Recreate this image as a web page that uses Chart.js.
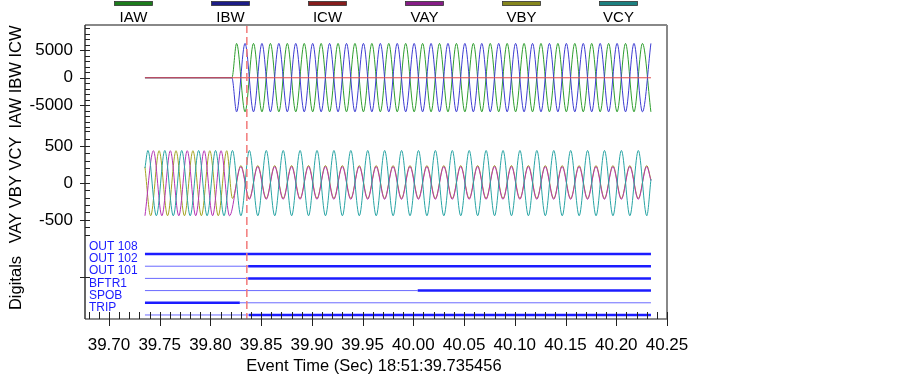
<!DOCTYPE html>
<html lang="en">
<head>
<meta charset="UTF-8">
<title>Fault record</title>
<script src="https://cdn.jsdelivr.net/npm/chart.js"></script>
<style>
  html, body { margin: 0; padding: 0; background: #fff; }
  #wrap { width: 903px; height: 378px; position: relative; }
</style>
</head>
<body>
<div id="wrap"><canvas id="rec"></canvas></div>
<script>
// ---- time base (seconds) ----
const HALF = 1 / 120;            // half cycle at 60 Hz
const tStart = 39.7355, tFault = 39.8212, tEnd = 40.2342;
const tMarker = 39.8359;          // red dashed cursor
const xTicks = { min: 39.6764, max: 40.25, step: 0.05 };
const yITicks = [-5000, 0, 5000];
const yVTicks = [-500, 0, 500];

// ---- currents: half-cycle peaks after the fault ----
const iawPeak0 = 39.8258;
const iawPeaks = [
  6250, -6200, 6250, -6200, 6250, -6200, 6250, -6200, 6250, -6200,
  6250, -6200, 6250, -6200, 6250, -6200, 6250, -6200, 6250, -6200,
  6250, -6200, 6250, -6200, 6250, -6200, 6250, -6200, 6250, -6200,
  6250, -6200, 6250, -6200, 6250, -6200, 6250, -6200, 6250, -6200,
  6250, -6200, 6250, -6200, 6250, -6200, 6250, -6200, 6250, -6200
];
const ibwPeaks = [
  -6200, 6250, -6200, 6250, -6200, 6250, -6200, 6250, -6200, 6250,
  -6200, 6250, -6200, 6250, -6200, 6250, -6200, 6250, -6200, 6250,
  -6200, 6250, -6200, 6250, -6200, 6250, -6200, 6250, -6200, 6250,
  -6200, 6250, -6200, 6250, -6200, 6250, -6200, 6250, -6200, 6250,
  -6200, 6250, -6200, 6250, -6200, 6250, -6200, 6250, -6200, 6250
];
const icwLevel = 0;

// ---- voltages: half-cycle peaks ----
const vayPre0 = 39.7355;
const vayPre = [-445, 435, -445, 435, -445, 435, -445, 435, -445, 435, -445];
const vayPost0 = 39.8300;
const vayPost = [
  220, -222, 220, -222, 220, -222, 220, -222, 220, -222,
  220, -222, 220, -222, 220, -222, 220, -222, 220, -222,
  220, -222, 220, -222, 220, -222, 220, -222, 220, -222,
  220, -222, 220, -222, 220, -222, 220, -222, 220, -222,
  220, -222, 220, -222, 220, -222, 220, -222, 220
];
const vayEnd = 30;

const vbyStart = 215;
const vbyPre0 = 39.7411;
const vbyPre = [-445, 435, -445, 435, -445, 435, -445, 435, -445, 435];
const vbyPost0 = 39.8217;
const vbyPost = [
  -210, 234, -210, 234, -210, 234, -210, 234, -210, 234,
  -210, 234, -210, 234, -210, 234, -210, 234, -210, 234,
  -210, 234, -210, 234, -210, 234, -210, 234, -210, 234,
  -210, 234, -210, 234, -210, 234, -210, 234, -210, 234,
  -210, 234, -210, 234, -210, 234, -210, 234, -210, 234
];
const vbyEnd = 40;

const vcyStart = 200;
const vcy0 = 39.7384;
const vcyPeaks = [
  438, -445, 438, -445, 438, -445, 438, -445, 438, -445,
  438, -445, 438, -445, 438, -445, 438, -445, 438, -445,
  438, -445, 438, -445, 438, -445, 438, -445, 438, -445,
  438, -445, 438, -445, 438, -445, 438, -445, 438, -445,
  438, -445, 438, -445, 438, -445, 438, -445, 438, -445,
  438, -445, 438, -445, 438, -445, 438, -445, 438, -445
];
const vcyEnd = 50;

// ---- digitals ----
const digNames = ['OUT 108', 'OUT 102', 'OUT 101', 'BFTR1', 'SPOB', 'TRIP'];
const digTimes = [
  [39.7355, 40.2342],
  [39.7355, 39.8372, 40.2342],
  [39.7355, 39.8372, 40.2342],
  [39.7355, 40.0043, 40.2342],
  [39.7355, 39.8290, 40.2342],
  [39.7355, 39.8378, 40.2342]
];
const digStates = [[1], [0, 1], [0, 1], [0, 1], [1, 0], [0, 1]];

// ---- legend / colours ----
const seriesNames = ['IAW', 'IBW', 'ICW', 'VAY', 'VBY', 'VCY'];
const lineColors = ['#2e9e2e', '#3c3cd2', '#e04848', '#b434b4', '#a4a424', '#28a4a4'];
const keyColors  = ['#1c7c1c', '#1c1c86', '#861c1c', '#861c86', '#86861c', '#1c8080'];

const FONT = "'Liberation Sans', Arial, sans-serif";

function wave(t0, vals) {
  return vals.map((v, i) => ({ x: t0 + i * HALF, y: v }));
}

const iawData = [{ x: tStart, y: 0 }, { x: tFault, y: 0 }].concat(wave(iawPeak0, iawPeaks));
const ibwData = [{ x: tStart, y: 0 }, { x: tFault, y: 0 }].concat(wave(iawPeak0, ibwPeaks));
const icwData = [{ x: tStart, y: icwLevel }, { x: tEnd, y: icwLevel }];
const vayData = wave(vayPre0, vayPre).concat(wave(vayPost0, vayPost), [{ x: tEnd, y: vayEnd }]);
const vbyData = [{ x: tStart, y: vbyStart }].concat(wave(vbyPre0, vbyPre), wave(vbyPost0, vbyPost), [{ x: tEnd, y: vbyEnd }]);
const vcyData = [{ x: tStart, y: vcyStart }].concat(wave(vcy0, vcyPeaks), [{ x: tEnd, y: vcyEnd }]);

function waveSet(label, data, color, axis) {
  return {
    label: label, data: data, yAxisID: axis,
    borderColor: color, borderWidth: 1, pointRadius: 0,
    cubicInterpolationMode: 'monotone', fill: false
  };
}

const datasets = [
  waveSet('ICW', icwData, lineColors[2], 'yI'),
  waveSet('IBW', ibwData, lineColors[1], 'yI'),
  waveSet('IAW', iawData, lineColors[0], 'yI'),
  waveSet('VCY', vcyData, lineColors[5], 'yV'),
  waveSet('VAY', vayData, lineColors[3], 'yV'),
  waveSet('VBY', vbyData, lineColors[4], 'yV')
];
digNames.forEach((name, i) => {
  datasets.push({
    label: name, yAxisID: 'yD', pointRadius: 0, tension: 0,
    data: digTimes[i].map(t => ({ x: t, y: 5 - i })),
    borderColor: '#1c1cff', borderWidth: 1,
    segment: {
      borderWidth: c => digStates[i][c.p0DataIndex] ? 2.5 : 1,
      borderColor: c => digStates[i][c.p0DataIndex] ? '#1c1cff' : '#6a6aff'
    }
  });
});

function line(ctx, x1, y1, x2, y2) {
  ctx.beginPath(); ctx.moveTo(x1, y1); ctx.lineTo(x2, y2); ctx.stroke();
}

// frame, tick marks, cursor, channel labels, key and titles
const decor = {
  id: 'decor',
  afterDatasetsDraw(chart) {
    const { ctx, chartArea: a, scales } = chart;
    const x = scales.x;
    ctx.save();

    // cursor
    const mx = x.getPixelForValue(tMarker);
    ctx.strokeStyle = '#f27a7a';
    ctx.lineWidth = 1.5;
    ctx.setLineDash([8, 4]);
    line(ctx, mx, a.top, mx, a.bottom);
    ctx.setLineDash([]);

    // frame
    ctx.strokeStyle = '#888';
    ctx.lineWidth = 2;
    line(ctx, a.left, a.top, a.right, a.top);
    line(ctx, a.right, a.top, a.right, a.bottom);
    ctx.strokeStyle = '#666';
    ctx.lineWidth = 1.5;
    line(ctx, a.left, a.bottom, a.right, a.bottom);
    ctx.strokeStyle = '#333';
    line(ctx, a.left, a.top, a.left, a.bottom);

    // x tick marks
    ctx.strokeStyle = '#222';
    ctx.lineWidth = 1;
    for (let k = Math.ceil(x.min * 100); k <= Math.round(x.max * 100); k++) {
      const px = Math.round(x.getPixelForValue(k / 100)) + 0.5;
      const major = k % 5 === 0;
      line(ctx, px, a.bottom - 7, px, a.bottom + (major ? 7 : 0));
    }

    // y tick marks
    [['yI', 1000, 5000], ['yV', 100, 500]].forEach(([id, minor, major]) => {
      const s = scales[id];
      for (let v = Math.ceil(s.min / minor) * minor; v <= s.max; v += minor) {
        const py = Math.round(s.getPixelForValue(v)) + 0.5;
        if (v % major === 0) line(ctx, a.left - 5, py, a.left + 5, py);
        else line(ctx, a.left, py, a.left + 5, py);
      }
    });
    const yD = scales.yD;
    const midD = Math.round((yD.top + yD.bottom) / 2) + 0.5;
    line(ctx, a.left - 5, midD, a.left + 5, midD);

    // digital channel names
    ctx.fillStyle = '#1c1cff';
    ctx.font = '12px ' + FONT;
    ctx.textAlign = 'left';
    ctx.textBaseline = 'alphabetic';
    digNames.forEach((name, i) => {
      ctx.fillText(name, a.left + 4, yD.getPixelForValue(5 - i) - 4);
    });

    // key
    const cell = (a.right - a.left) / seriesNames.length;
    ctx.font = '15px ' + FONT;
    ctx.textAlign = 'center';
    seriesNames.forEach((name, i) => {
      const cx = a.left + cell * (i + 0.5);
      ctx.fillStyle = keyColors[i];
      ctx.fillRect(cx - 19, 1.5, 38, 4);
      ctx.strokeStyle = '#333';
      ctx.lineWidth = 0.8;
      ctx.strokeRect(cx - 19, 1.5, 38, 4);
      ctx.fillStyle = '#000';
      ctx.fillText(name, cx, 21.5);
    });

    // axis titles
    ctx.fillStyle = '#000';
    ctx.font = '16.5px ' + FONT;
    ctx.textBaseline = 'middle';
    ctx.fillText('Event Time (Sec) 18:51:39.735456', (a.left + a.right) / 2 - 2, 366);
    [['IAW IBW ICW', 77], ['VAY VBY VCY', 190], ['Digitals', 283]].forEach(([t, cy]) => {
      ctx.save();
      ctx.translate(16.5, cy);
      ctx.rotate(-Math.PI / 2);
      ctx.fillText(t, 0, 0);
      ctx.restore();
    });
    ctx.restore();
  }
};

const tickFont = { family: FONT, size: 17 };
const fixW = s => { s.width = 85; };
const setTicks = vals => s => { s.ticks = vals.map(v => ({ value: v })); };

new Chart(document.getElementById('rec'), {
  type: 'line',
  data: { datasets: datasets },
  options: {
    responsive: true,
    maintainAspectRatio: false,
    animation: false,
    events: [],
    layout: { padding: { top: 25, right: 236, bottom: 0, left: 0 } },
    plugins: { legend: { display: false }, tooltip: { enabled: false } },
    scales: {
      x: {
        type: 'linear', min: xTicks.min, max: xTicks.max,
        grid: { display: false, drawTicks: false }, border: { display: false },
        ticks: {
          stepSize: xTicks.step, includeBounds: false, maxTicksLimit: 20,
          autoSkip: false, maxRotation: 0, padding: 16, color: '#000', font: tickFont,
          callback: v => v.toFixed(2)
        },
        afterFit: s => { s.height = 59; }
      },
      yD: {
        type: 'linear', position: 'left', stack: 'rec', stackWeight: 84,
        min: -0.33, max: 6.56,
        grid: { display: false }, border: { display: false },
        ticks: { display: false },
        afterFit: fixW
      },
      yV: {
        type: 'linear', position: 'left', stack: 'rec', stackWeight: 105,
        min: -705, max: 715,
        grid: { display: false, drawTicks: false }, border: { display: false },
        ticks: { padding: 12, color: '#000', font: tickFont, callback: v => String(v) },
        afterBuildTicks: setTicks(yVTicks),
        afterFit: fixW
      },
      yI: {
        type: 'linear', position: 'left', stack: 'rec', stackWeight: 105,
        min: -9500, max: 9600,
        grid: { display: false, drawTicks: false }, border: { display: false },
        ticks: { padding: 12, color: '#000', font: tickFont, callback: v => String(v) },
        afterBuildTicks: setTicks(yITicks),
        afterFit: fixW
      }
    }
  },
  plugins: [decor]
});
</script>
</body>
</html>
